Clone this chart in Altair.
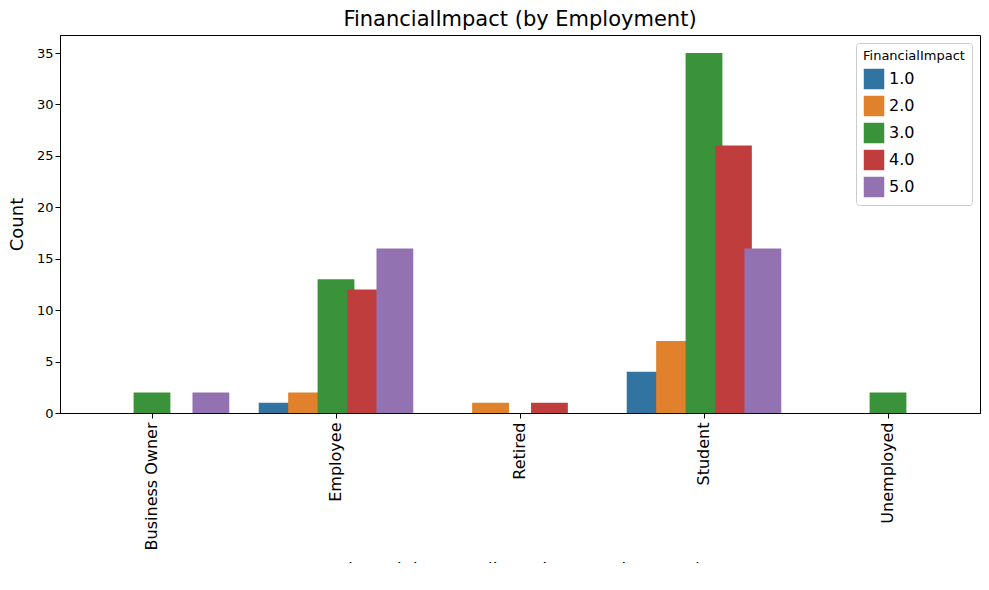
import altair as alt
import pandas as pd

employment = ["Business Owner", "Employee", "Retired", "Student", "Unemployed"]
impact = ["1.0", "2.0", "3.0", "4.0", "5.0"]
counts = {
    "Business Owner": [0, 0, 2, 0, 2],
    "Employee": [1, 2, 13, 12, 16],
    "Retired": [0, 1, 0, 1, 0],
    "Student": [4, 7, 35, 26, 16],
    "Unemployed": [0, 0, 2, 0, 0],
}
colors = ["#3274a1", "#e1812c", "#3a923a", "#c03d3e", "#9372b2"]

rows = [
    {"Employment": e, "FinancialImpact": k, "Count": counts[e][i]}
    for e in employment for i, k in enumerate(impact)
]
df = pd.DataFrame(rows)

font = "DejaVu Sans"

chart = alt.Chart(df).mark_bar(size=36.8).encode(
    x=alt.X("Employment:N", sort=employment,
            title="FinancialImpact (based on Employment)",
            scale=alt.Scale(paddingInner=0.2, paddingOuter=0.1),
            axis=alt.Axis(labelAngle=270, labelFontSize=16, titleFontSize=18,
                          titleFontWeight="normal", labelColor="black",
                          titleColor="black", domainColor="black",
                          tickColor="black", labelPadding=4, titlePadding=12)),
    xOffset=alt.XOffset("FinancialImpact:N", sort=impact),
    y=alt.Y("Count:Q", title="Count",
            scale=alt.Scale(domain=[0, 36.75], nice=False),
            axis=alt.Axis(values=[0, 5, 10, 15, 20, 25, 30, 35], grid=False,
                          labelFontSize=13, titleFontSize=18,
                          titleFontWeight="normal", labelColor="black",
                          titleColor="black", domainColor="black",
                          tickColor="black", titlePadding=10)),
    color=alt.Color("FinancialImpact:N", sort=impact,
                    scale=alt.Scale(domain=impact, range=colors),
                    legend=alt.Legend(orient="top-right", title="FinancialImpact",
                                      titleFontSize=13, titleFontWeight="normal",
                                      titleColor="black", labelColor="black",
                                      labelFontSize=16, symbolType="square",
                                      symbolSize=420, strokeColor="#cccccc",
                                      fillColor="white", padding=7, rowPadding=5,
                                      cornerRadius=3, offset=8)),
).properties(
    width=920,
    height=378,
    title=alt.Title("FinancialImpact (by Employment)", fontSize=21,
                    fontWeight="normal", color="black", offset=5),
    autosize=alt.AutoSizeParams(type="none"),
    padding={"left": 52, "top": 27, "right": 1, "bottom": 150},
    background="white",
).configure(font=font).configure_view(stroke="black", strokeWidth=1)

chart.save("out.html", embed_options={"renderer": "svg", "actions": False})
